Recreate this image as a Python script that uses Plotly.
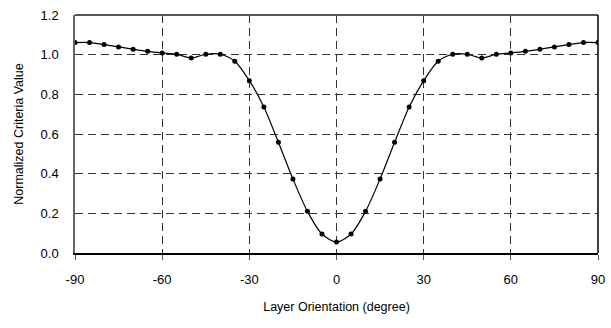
import plotly.graph_objects as go

angles = list(range(-90, 95, 5))
values = [1.061, 1.061, 1.051, 1.039, 1.027, 1.017, 1.009, 1.002, 0.983, 1.002,
          1.002, 0.967, 0.869, 0.736, 0.558, 0.373, 0.210, 0.096, 0.055, 0.096,
          0.210, 0.373, 0.558, 0.736, 0.869, 0.967, 1.002, 1.002, 0.983, 1.002,
          1.009, 1.017, 1.027, 1.039, 1.051, 1.061, 1.061]
x_ticks = [-90, -60, -30, 0, 30, 60, 90]
y_ticks = [0.0, 0.2, 0.4, 0.6, 0.8, 1.0, 1.2]

font = "Liberation Sans, Arial, sans-serif"

fig = go.Figure()
fig.add_trace(go.Scatter(
    x=angles, y=values, mode="lines+markers",
    line=dict(color="black", width=1.2, shape="spline", smoothing=0.8),
    marker=dict(color="black", size=5),
    showlegend=False,
))

fig.update_layout(
    width=611, height=328,
    margin=dict(l=75, r=13, t=15, b=75),
    paper_bgcolor="white", plot_bgcolor="white",
    font=dict(family=font, size=13, color="black"),
    xaxis=dict(
        range=[-90, 90], tickvals=x_ticks, ticktext=[str(v) for v in x_ticks],
        showgrid=True, gridcolor="#333333", griddash="8px,5px", gridwidth=1,
        showline=True, linecolor="black", linewidth=2,
        ticks="outside", ticklen=5, tickcolor="#555555",
        ticklabelstandoff=8, zeroline=False, automargin=False,
        tickfont=dict(size=13),
        title=dict(text="Layer Orientation (degree)", standoff=17,
                   font=dict(size=12.5)),
    ),
    yaxis=dict(
        range=[0, 1.2], tickvals=y_ticks, ticktext=[f"{v:.1f}" for v in y_ticks],
        showgrid=True, gridcolor="#333333", griddash="8px,5px", gridwidth=1,
        showline=True, linecolor="#666666", linewidth=1.5,
        ticks="", ticklabelstandoff=12, zeroline=False, automargin=False,
        tickfont=dict(size=13),
        title=dict(text="Normalized Criteria Value", standoff=14,
                   font=dict(size=12.5)),
    ),
    shapes=[
        dict(type="line", xref="paper", yref="paper", x0=0, x1=1, y0=1, y1=1,
             line=dict(color="#555555", width=2)),
        dict(type="line", xref="paper", yref="paper", x0=1, x1=1, y0=0, y1=1,
             line=dict(color="black", width=1.5)),
    ],
)

fig.write_html("out.html")
